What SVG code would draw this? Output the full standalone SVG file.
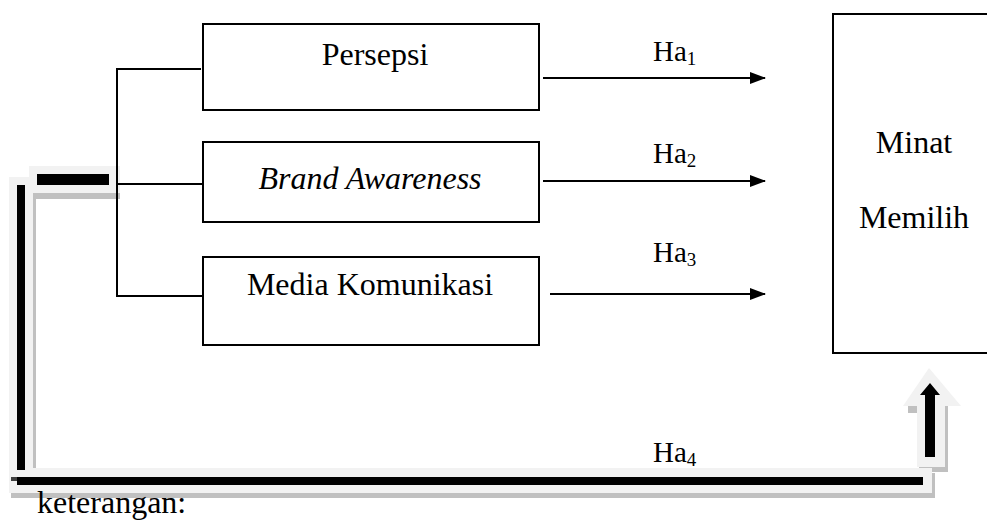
<svg xmlns="http://www.w3.org/2000/svg" width="987" height="520" viewBox="0 0 987 520">
<style>
.box{fill:#fff;stroke:#000;stroke-width:2}
.t{font-family:"Liberation Serif","Times New Roman",serif;font-size:32px;fill:#000}
.h{font-family:"Liberation Serif","Times New Roman",serif;font-size:29px;fill:#000}
.sub{font-size:19px}
.ln{stroke:#000;stroke-width:2;fill:none}
.face{fill:#f2f2f2}
.shd{fill:#c0c0c0}
.blk{fill:#000}
</style>
<defs>
<marker id="ah" markerWidth="16" markerHeight="12" refX="15" refY="6" orient="auto" markerUnits="userSpaceOnUse">
<path d="M0,0 L16,6 L0,12 Z" fill="#000"/>
</marker>
</defs>
<g id="feedback-arrow">
<!-- shadows -->
<rect class="shd" x="33" y="182" width="3" height="292"/>
<rect class="shd" x="33" y="193" width="87" height="6"/>
<rect class="shd" x="11" y="493" width="924" height="5"/>
<rect class="shd" x="932" y="473" width="3" height="25"/>
<path class="shd" d="M908,406 L908,413 L919,413 L919,472 L948,472 L948,406 Z"/>
<!-- faces -->
<rect class="face" x="9" y="177" width="24" height="316"/>
<rect class="face" x="29" y="166" width="91" height="27"/>
<rect class="face" x="9" y="468" width="923" height="25"/>
<path class="face" d="M929,368 L961,406 L945,406 L945,467 L917,467 L917,406 L903,406 Z"/>
<!-- black -->
<rect class="blk" x="17" y="185" width="8" height="285"/>
<rect class="blk" x="37" y="174" width="72" height="11"/>
<rect class="blk" x="17" y="477" width="906" height="8"/>
<rect fill="#404040" x="11" y="477" width="6" height="4"/>
<path class="blk" d="M930,383 L940,395 L935,395 L935,457 L925,457 L925,395 L920,395 Z"/>
</g>
<g id="connectors">
<polyline class="ln" points="201,69 117,69 117,296 203,296"/>
<line class="ln" x1="117" y1="184" x2="203" y2="184"/>
<line class="ln" x1="543" y1="78" x2="765" y2="78" marker-end="url(#ah)"/>
<line class="ln" x1="543" y1="181" x2="765" y2="181" marker-end="url(#ah)"/>
<line class="ln" x1="550" y1="294" x2="765" y2="294" marker-end="url(#ah)"/>
<text class="h" x="653" y="61">Ha<tspan class="sub" dy="4">1</tspan></text>
<text class="h" x="653" y="163">Ha<tspan class="sub" dy="4">2</tspan></text>
<text class="h" x="653" y="262">Ha<tspan class="sub" dy="4">3</tspan></text>
<text class="h" x="653" y="462">Ha<tspan class="sub" dy="4">4</tspan></text>
</g>
<g id="persepsi">
<rect class="box" x="203" y="24" width="336" height="86"/>
<text class="t" x="375" y="65" text-anchor="middle">Persepsi</text>
</g>
<g id="brand-awareness">
<rect class="box" x="203" y="142" width="336" height="80"/>
<text class="t" x="370" y="189" text-anchor="middle" font-style="italic">Brand Awareness</text>
</g>
<g id="media-komunikasi">
<rect class="box" x="203" y="257" width="336" height="88"/>
<text class="t" x="370" y="295" text-anchor="middle">Media Komunikasi</text>
</g>
<g id="minat-memilih">
<rect class="box" x="833" y="14" width="160" height="339"/>
<text class="t" x="914" y="153" text-anchor="middle">Minat</text>
<text class="t" x="914" y="228" text-anchor="middle">Memilih</text>
</g>
<text class="t" x="37" y="513">keterangan:</text>
</svg>
